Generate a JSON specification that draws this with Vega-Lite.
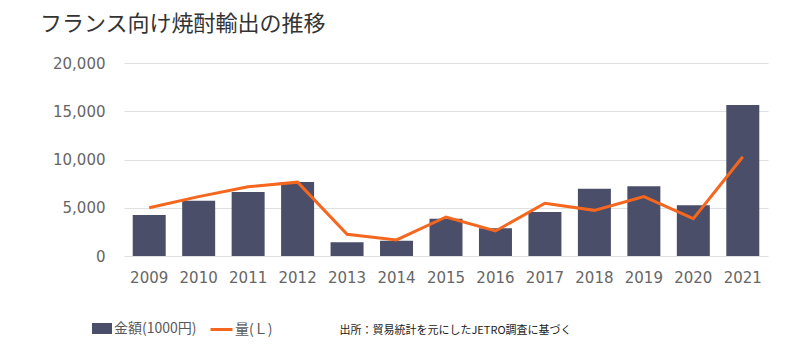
{
  "$schema": "https://vega.github.io/schema/vega-lite/v6.json",
  "width": 644,
  "height": 193,
  "autosize": {"type": "none"},
  "padding": {"left": 124, "top": 63, "right": 32, "bottom": 98},
  "background": "white",
  "title": {
    "text": "フランス向け焼酎輸出の推移",
    "anchor": "start",
    "frame": "group",
    "font": "Noto Sans CJK JP",
    "fontSize": 22,
    "fontWeight": "normal",
    "color": "#333333",
    "dx": -84,
    "offset": 20
  },
  "data": {
    "values": [
      {"year": "2009", "amount": 4250, "volume": 5000},
      {"year": "2010", "amount": 5730, "volume": 6150},
      {"year": "2011", "amount": 6630, "volume": 7180},
      {"year": "2012", "amount": 7670, "volume": 7650},
      {"year": "2013", "amount": 1420, "volume": 2250},
      {"year": "2014", "amount": 1590, "volume": 1660},
      {"year": "2015", "amount": 3870, "volume": 4040},
      {"year": "2016", "amount": 2870, "volume": 2590},
      {"year": "2017", "amount": 4560, "volume": 5460},
      {"year": "2018", "amount": 6980, "volume": 4730},
      {"year": "2019", "amount": 7220, "volume": 6150},
      {"year": "2020", "amount": 5250, "volume": 3870},
      {"year": "2021", "amount": 15650, "volume": 10290}
    ]
  },
  "encoding": {
    "x": {
      "field": "year",
      "type": "ordinal",
      "scale": {"paddingInner": 0.333, "paddingOuter": 0.176},
      "axis": {
        "title": "出所：貿易統計を元にしたJETRO調査に基づく",
        "titleFont": "Noto Sans CJK JP",
        "titleFontSize": 11,
        "titleFontWeight": "normal",
        "titleColor": "#1a1a1a",
        "titleX": 331,
        "titleY": 77,
        "titleBaseline": "alphabetic",
        "labelAngle": 0,
        "labelFont": "DejaVu Sans",
        "labelFontSize": 15,
        "labelColor": "#666666",
        "labelPadding": 14,
        "ticks": false,
        "domain": false,
        "grid": false
      }
    }
  },
  "layer": [
    {
      "mark": {"type": "bar"},
      "encoding": {
        "y": {
          "field": "amount",
          "type": "quantitative",
          "scale": {"domain": [0, 20000]},
          "axis": {
            "title": null,
            "values": [0, 5000, 10000, 15000, 20000],
            "format": ",.0f",
            "labelFont": "DejaVu Sans",
            "labelFontSize": 15,
            "labelColor": "#666666",
            "labelPadding": 19,
            "ticks": false,
            "domain": false,
            "grid": true,
            "gridColor": "#e0e0e0",
            "gridWidth": 1
          }
        },
        "fill": {
          "datum": "金額(1000円)",
          "scale": {"range": ["#4a4e68"]},
          "legend": {
            "title": null,
            "orient": "none",
            "legendX": -32,
            "legendY": 255.5,
            "padding": 0,
            "symbolType": "M-1,-0.55H1V0.55H-1Z",
            "symbolSize": 400,
            "symbolStrokeWidth": 0,
            "labelOffset": 2,
            "labelFont": "Noto Sans CJK JP",
            "labelFontSize": 14,
            "labelColor": "#595959"
          }
        }
      }
    },
    {
      "mark": {"type": "line", "strokeWidth": 3},
      "encoding": {
        "y": {"field": "volume", "type": "quantitative"},
        "stroke": {
          "datum": "量(Ｌ)",
          "scale": {"range": ["#f5661e"]},
          "legend": {
            "title": null,
            "orient": "none",
            "legendX": 85,
            "legendY": 254,
            "padding": 0,
            "symbolType": "stroke",
            "symbolSize": 484,
            "symbolStrokeWidth": 3,
            "labelOffset": 1,
            "labelFont": "Noto Sans CJK JP",
            "labelFontSize": 14,
            "labelColor": "#595959"
          }
        }
      }
    }
  ],
  "config": {"view": {"stroke": null}}
}
